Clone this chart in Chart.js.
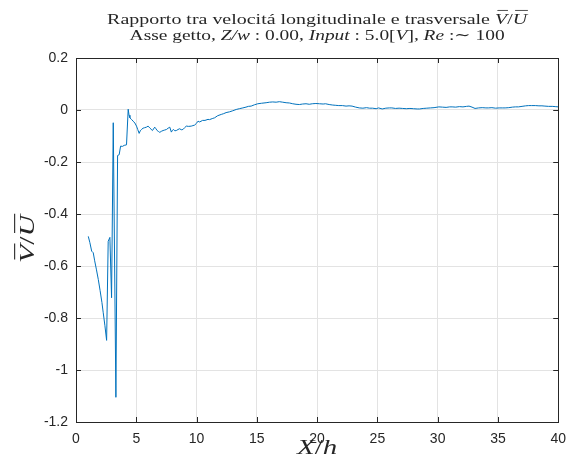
<!DOCTYPE html>
<html>
<head>
<meta charset="utf-8">
<script src="https://cdn.jsdelivr.net/npm/chart.js@4.4.0/dist/chart.umd.min.js"></script>
<style>
  body { margin: 0; background: #fff; }
  canvas { display: block; }
</style>
</head>
<body>
<canvas id="rapporto" width="575" height="470"></canvas>
<script>
// posizione lungo l'asse del getto (X/h)
const xh = [
  1.02, 1.15, 1.30, 1.43, 1.55, 1.70, 1.85, 2.00, 2.15, 2.26, 2.40, 2.54,
  2.67, 2.81, 2.95, 3.09, 3.31, 3.45, 3.58, 3.70, 3.85, 4.00, 4.19, 4.33,
  4.40, 4.47, 4.60, 4.74, 4.88, 5.02, 5.12, 5.24, 5.33, 5.43, 5.56, 5.70,
  5.84, 5.98, 6.12, 6.23, 6.34, 6.53, 6.63, 6.73, 6.85, 6.95, 7.08, 7.22,
  7.36, 7.50, 7.64, 7.78, 7.91, 8.00, 8.10, 8.20, 8.32, 8.46, 8.60, 8.73,
  8.87, 9.01, 9.15, 9.35, 9.56, 9.70, 9.84, 9.98, 10.12, 10.26, 10.50, 10.70,
  10.95, 11.08, 11.30, 11.50, 11.75, 12.05, 12.25, 12.45, 12.74, 13.00, 13.29, 13.55,
  13.84, 14.10, 14.30, 14.53, 14.80, 15.08, 15.40, 15.77, 16.05, 16.32, 16.60, 16.87,
  17.15, 17.43, 17.70, 17.98, 18.25, 18.53, 18.80, 19.08, 19.35, 19.60, 19.90, 20.20,
  20.50, 20.70, 21.00, 21.30, 21.55, 21.80, 22.10, 22.40, 22.65, 22.90, 23.20, 23.50,
  23.80, 24.10, 24.35, 24.60, 24.90, 25.10, 25.40, 25.70, 26.00, 26.20, 26.50, 26.80,
  27.10, 27.40, 27.70, 28.00, 28.30, 28.50, 28.80, 29.10, 29.40, 29.70, 30.10, 30.40,
  30.70, 31.00, 31.20, 31.50, 31.80, 32.10, 32.40, 32.60, 32.85, 33.10, 33.40, 33.70,
  34.00, 34.20, 34.50, 34.80, 35.10, 35.40, 35.60, 35.90, 36.20, 36.45, 36.70, 37.00,
  37.30, 37.55, 37.80, 38.10, 38.40, 38.65, 38.90, 39.20, 39.50, 39.75, 40.00
];

// rapporto V/U medio
const vu = [
  -0.486, -0.510, -0.543, -0.549, -0.580, -0.615, -0.652, -0.695, -0.740, -0.780, -0.830, -0.886,
  -0.505, -0.490, -0.722, -0.049, -1.105, -0.175, -0.172, -0.139, -0.140, -0.136, -0.134, 0.003,
  -0.020, -0.030, -0.036, -0.043, -0.050, -0.062, -0.075, -0.090, -0.080, -0.075, -0.070, -0.068,
  -0.066, -0.062, -0.069, -0.074, -0.079, -0.066, -0.072, -0.079, -0.083, -0.086, -0.082, -0.079,
  -0.077, -0.075, -0.070, -0.066, -0.085, -0.078, -0.075, -0.080, -0.079, -0.075, -0.072, -0.076,
  -0.075, -0.068, -0.062, -0.063, -0.062, -0.060, -0.058, -0.052, -0.043, -0.046, -0.040, -0.040,
  -0.036, -0.037, -0.033, -0.030, -0.022, -0.017, -0.014, -0.010, -0.007, -0.003, 0.002, 0.005,
  0.008, 0.011, 0.014, 0.015, 0.020, 0.024, 0.026, 0.028, 0.030, 0.031, 0.030, 0.032,
  0.030, 0.028, 0.027, 0.024, 0.022, 0.021, 0.023, 0.024, 0.022, 0.024, 0.025, 0.024,
  0.023, 0.024, 0.021, 0.019, 0.018, 0.017, 0.017, 0.015, 0.016, 0.015, 0.011, 0.008,
  0.007, 0.009, 0.007, 0.007, 0.005, 0.008, 0.004, 0.007, 0.008, 0.008, 0.006, 0.007,
  0.006, 0.005, 0.006, 0.005, 0.004, 0.004, 0.006, 0.007, 0.008, 0.009, 0.012, 0.011,
  0.010, 0.012, 0.012, 0.011, 0.013, 0.012, 0.014, 0.015, 0.011, 0.006, 0.008, 0.009,
  0.008, 0.008, 0.009, 0.007, 0.008, 0.008, 0.008, 0.009, 0.011, 0.012, 0.012, 0.014,
  0.016, 0.017, 0.017, 0.017, 0.016, 0.016, 0.015, 0.014, 0.014, 0.013, 0.012
];

const xTicks = [0, 5, 10, 15, 20, 25, 30, 35, 40];
const yTicks = [-1.2, -1, -0.8, -0.6, -0.4, -0.2, 0, 0.2];

const serif = '"Liberation Serif", "DejaVu Serif", serif';
const sans = '"Liberation Sans", Arial, sans-serif';
const axisColor = '#262626';

// testo misto: [stringa, corsivo, sopralineato], allargato fino a 'width'
function drawMixed(ctx, parts, cx, y, size, width) {
  const fontOf = p => (p[1] ? 'italic ' : '') + size + 'px ' + serif;
  let total = 0;
  parts.forEach(p => { ctx.font = fontOf(p); total += ctx.measureText(p[0]).width; });
  const k = width ? width / total : 1;
  ctx.save();
  ctx.translate(cx - total * k / 2, y);
  ctx.scale(k, 1);
  ctx.textAlign = 'left';
  ctx.textBaseline = 'alphabetic';
  ctx.fillStyle = axisColor;
  ctx.strokeStyle = axisColor;
  let x = 0;
  parts.forEach(p => {
    ctx.font = fontOf(p);
    const w = ctx.measureText(p[0]).width;
    ctx.fillText(p[0], x, 0);
    if (p[2]) {
      ctx.lineWidth = Math.max(0.8, size / 20);
      ctx.beginPath();
      ctx.moveTo(x + size * 0.12, -size * 0.88);
      ctx.lineTo(x + w + size * 0.04, -size * 0.88);
      ctx.stroke();
    }
    x += w;
  });
  ctx.restore();
}

const titleLine1 = [
  ['Rapporto tra velocitá longitudinale e trasversale ', false],
  ['V', true, true], ['/', false], ['U', true, true]
];
const titleLine2 = [
  ['Asse getto, ', false], ['Z/w', true], [' : 0.00, ', false],
  ['Input', true], [' : 5.0[', false], ['V', true], ['], ', false],
  ['Re', true], [' :\u223C 100', false]
];
const xLabel = [['X', true], ['/', false], ['h', true]];
const yLabel = [['V', true, true], ['/', false], ['U', true, true]];

const matlabAxes = {
  id: 'matlabAxes',
  afterDraw(chart) {
    const ctx = chart.ctx;
    const a = chart.chartArea;
    const sx = chart.scales.x, sy = chart.scales.y;
    ctx.save();
    // cornice e tacche interne
    ctx.strokeStyle = axisColor;
    ctx.lineWidth = 1;
    ctx.strokeRect(Math.round(a.left) + 0.5, Math.round(a.top) + 0.5,
      Math.round(a.right - a.left), Math.round(a.bottom - a.top));
    ctx.beginPath();
    xTicks.forEach(v => {
      const px = Math.round(sx.getPixelForValue(v)) + 0.5;
      ctx.moveTo(px, a.bottom); ctx.lineTo(px, a.bottom - 5);
      ctx.moveTo(px, a.top); ctx.lineTo(px, a.top + 5);
    });
    yTicks.forEach(v => {
      const py = Math.round(sy.getPixelForValue(v)) + 0.5;
      ctx.moveTo(a.left, py); ctx.lineTo(a.left + 5, py);
      ctx.moveTo(a.right, py); ctx.lineTo(a.right - 5, py);
    });
    ctx.stroke();

    const cx = (a.left + a.right) / 2;
    drawMixed(ctx, titleLine1, cx, 24, 15.5, 420);
    drawMixed(ctx, titleLine2, cx, 40, 15.5, 375);
    drawMixed(ctx, xLabel, cx, 454, 20, 40);

    ctx.save();
    ctx.translate(34, 239);
    ctx.rotate(-Math.PI / 2);
    drawMixed(ctx, yLabel, 0, 0, 22, 48);
    ctx.restore();
    ctx.restore();
  }
};

new Chart(document.getElementById('rapporto'), {
  type: 'scatter',
  data: {
    datasets: [{
      data: xh.map((x, i) => ({ x: x, y: vu[i] })),
      showLine: true,
      borderColor: '#0072BD',
      borderWidth: 1,
      pointRadius: 0,
      tension: 0
    }]
  },
  options: {
    responsive: false,
    animation: false,
    layout: { padding: { left: 0, top: 58, right: 15, bottom: 0 } },
    plugins: { legend: { display: false }, tooltip: { enabled: false } },
    scales: {
      x: {
        type: 'linear', min: 0, max: 40,
        afterBuildTicks: s => { s.ticks = xTicks.map(v => ({ value: v })); },
        afterFit: s => { s.height = 48; },
        grid: { color: '#e3e3e3', drawTicks: false },
        border: { display: false },
        ticks: { color: axisColor, padding: 9, maxRotation: 0, font: { family: sans, size: 14 } }
      },
      y: {
        min: -1.2, max: 0.2,
        afterBuildTicks: s => { s.ticks = yTicks.map(v => ({ value: v })); },
        afterFit: s => { s.width = 76; },
        grid: { color: '#e3e3e3', drawTicks: false },
        border: { display: false },
        ticks: {
          color: axisColor, padding: 8, font: { family: sans, size: 14 },
          callback: v => String(+v.toFixed(1))
        }
      }
    }
  },
  plugins: [matlabAxes]
});
</script>
</body>
</html>
